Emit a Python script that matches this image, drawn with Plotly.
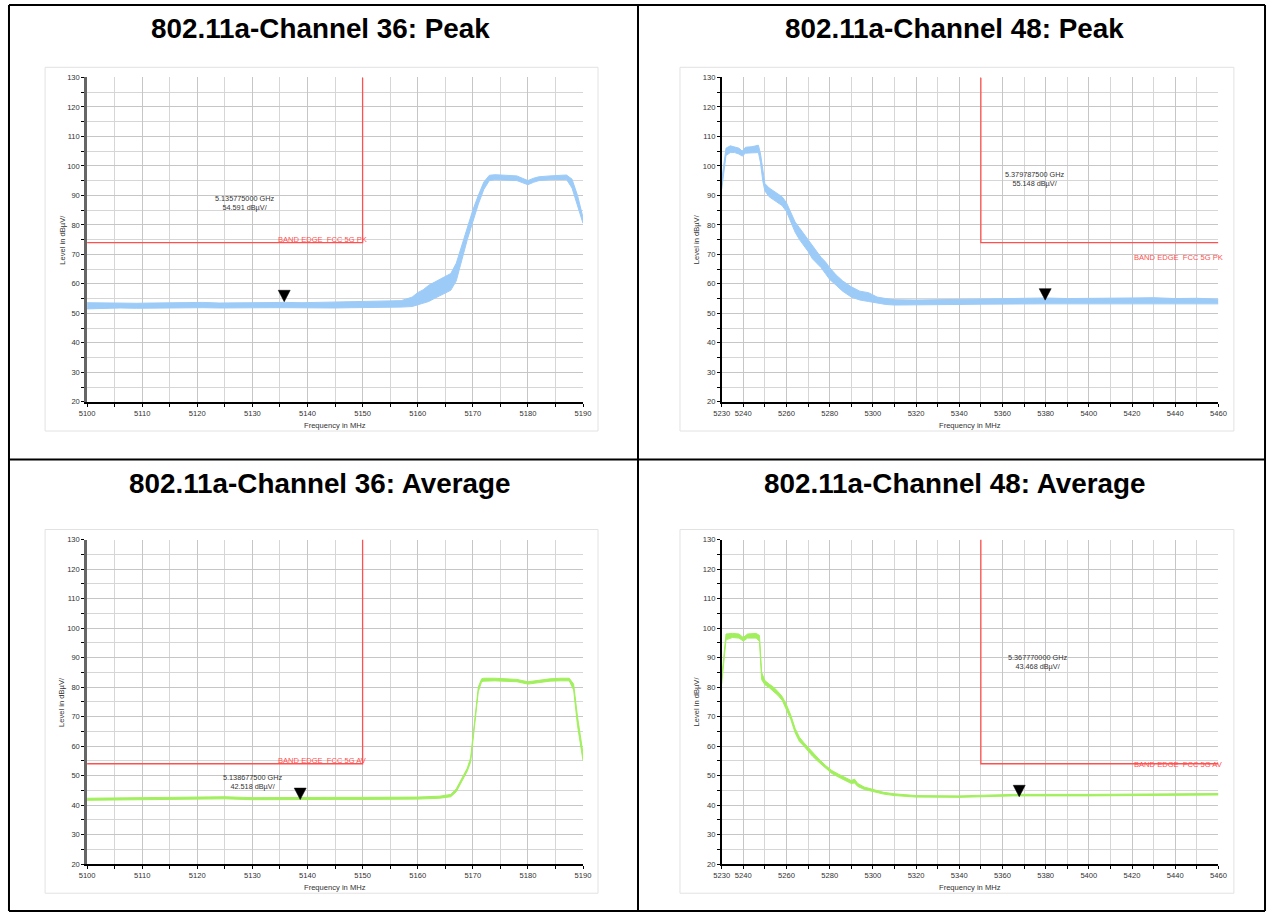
import plotly.graph_objects as go

# The page is photographed as a 1290x933 area (figure + 8px body margin) scaled to 1274x917.
W, H = 1274, 917
OFF = 8
SX, SY = 1274 / 1290, 917 / 933

# ---------------- data ----------------
# Channel 36 - Peak (noise band: lower / upper envelope)
freq_ch36_pk = [5100, 5103, 5106, 5109, 5112, 5115, 5118, 5121, 5124, 5127, 5130, 5133, 5136, 5139,
                5142, 5145, 5148, 5151, 5154, 5157, 5159, 5160, 5161, 5162, 5163, 5164, 5165, 5166,
                5167, 5168, 5169, 5170, 5171, 5172, 5173, 5174, 5176, 5178, 5179, 5180, 5181, 5182,
                5184, 5186, 5187, 5188, 5189, 5190]
lo_ch36_pk = [51.5, 51.7, 51.8, 51.7, 51.8, 51.7, 51.8, 51.9, 51.8, 51.9, 51.8, 51.9, 51.9, 51.8,
              51.9, 51.8, 51.9, 51.9, 52.0, 52.1, 52.3, 52.8, 53.3, 54.0, 55.0, 56.0, 57.0, 57.8,
              61.0, 68.0, 75.0, 81.0, 87.0, 92.0, 95.0, 95.3, 95.2, 95.0, 94.3, 93.6, 94.4, 95.0,
              95.3, 95.5, 95.4, 92.5, 86.5, 80.5]
hi_ch36_pk = [53.6, 53.5, 53.6, 53.4, 53.5, 53.6, 53.5, 53.7, 53.5, 53.6, 53.7, 53.8, 53.7, 53.6,
              53.7, 53.8, 53.8, 53.9, 54.0, 54.3, 55.5, 57.0, 58.0, 59.5, 60.5, 61.5, 62.5, 63.5,
              67.0, 73.0, 79.0, 85.0, 90.0, 94.5, 96.8, 97.0, 96.8, 96.6, 95.8, 95.0, 95.8, 96.3,
              96.6, 96.8, 96.9, 95.5, 90.0, 82.5]

# Channel 48 - Peak
freq_ch48_pk = [5230, 5231, 5232, 5234, 5236, 5238, 5239.5, 5241, 5244, 5247,
                5248, 5249, 5250, 5252, 5254, 5256, 5258, 5260, 5262, 5264, 5266, 5268, 5270, 5272,
                5274, 5276, 5278, 5280, 5283, 5286, 5290, 5294, 5298, 5302, 5306, 5310,
                5320, 5330, 5340, 5350, 5360, 5370, 5380, 5390, 5400, 5410, 5420, 5430, 5440, 5450, 5460]
lo_ch48_pk = [92, 97, 103.5, 104.5, 104.5, 104, 103.3, 104.3, 104.5, 104.5,
              101, 95, 91.5, 89.5, 88.5, 87.5, 86.5, 84.5, 81, 77.5, 75, 73, 71, 68.5, 67, 65.5, 63.5, 61.5,
              59.5, 57.5, 55.5, 54.5, 54, 53.5, 53, 52.8,
              52.8, 52.9, 53, 53.1, 53.2, 53.2, 53.2, 53.2, 53.2, 53.2, 53.2, 53.3, 53.2, 53.2, 53.2]
hi_ch48_pk = [95, 100, 106, 106.8, 106.5, 106, 105, 106.3, 106.5, 107,
              104, 99, 94, 92.5, 91.5, 90.5, 89.5, 87.5, 84.5, 81, 79, 77, 75, 73, 71, 69, 67.5, 65.5,
              63, 61, 59, 57.5, 57, 55.5, 55, 54.6,
              54.5, 54.6, 54.7, 54.8, 55, 55, 55.2, 55, 55, 55.1, 55.2, 55.3, 55, 55.1, 54.8]

# Channel 36 - Average
freq_ch36_av = [5100, 5105, 5110, 5115, 5120, 5125, 5130, 5135, 5140, 5145, 5150, 5155, 5160,
                5164, 5166, 5167, 5168, 5169, 5169.6, 5170.3, 5171, 5171.6, 5172, 5174, 5176, 5178,
                5180, 5182, 5184, 5186, 5187.5, 5188.3, 5189, 5190]
lo_ch36_av = [41.6, 41.7, 41.7, 41.8, 41.9, 42.1, 41.8, 41.9, 41.9, 41.9, 41.9, 41.9, 42.0,
              42.3, 42.8, 44.5, 48, 51.5, 54.5, 67, 78.5, 81.8, 82.0, 82.1, 82.0, 81.8,
              81.0, 81.6, 82.0, 82.1, 82.1, 79, 67, 55]
hi_ch36_av = [42.3, 42.4, 42.4, 42.5, 42.6, 42.8, 42.5, 42.6, 42.6, 42.6, 42.6, 42.6, 42.7,
              43.0, 43.6, 45.5, 49, 52.5, 56, 69, 80, 82.8, 83.0, 83.0, 82.9, 82.6,
              81.8, 82.4, 82.8, 83.0, 83.0, 81, 70, 57.5]

# Channel 48 - Average
freq_ch48_av = [5230, 5231, 5232, 5235, 5238, 5240, 5242, 5246, 5247.5, 5248.5,
                5250, 5252, 5254, 5256, 5258, 5260, 5262, 5264, 5266, 5268,
                5270, 5272, 5275, 5278, 5281, 5284, 5287, 5290, 5291.5, 5293,
                5296, 5300, 5305, 5310, 5320, 5340, 5360, 5365, 5400, 5440, 5460]
lo_ch48_av = [81, 88, 96, 96.8, 96.6, 95.6, 96.6, 96.6, 95.5, 82.5,
              80.8, 79.8, 78.5, 77.2, 75.5, 72.5, 69, 64.5, 61.5, 60,
              58.3, 56.6, 54.5, 52.5, 50.7, 49.5, 48.5, 47.3, 47.5, 46.3,
              45.3, 44.5, 43.7, 43.2, 42.7, 42.6, 42.8, 43.1, 43.1, 43.2, 43.4]
hi_ch48_av = [83, 91, 98, 98.2, 98, 96.8, 98, 98.2, 97.5, 85,
              82.2, 81, 80, 78.5, 76.8, 74, 70.5, 66, 63, 61.2,
              59.5, 57.8, 55.6, 53.5, 51.7, 50.5, 49.5, 48.3, 48.8, 47.3,
              46.1, 45.2, 44.3, 43.8, 43.2, 43.1, 43.3, 43.6, 43.6, 43.7, 43.9]

# limits
limit_pk = 74
limit_av = 54
band_edge_ch36 = 5150
band_edge_ch48 = 5350

# markers
marker_freq = [5135.775, 5379.7875, 5138.6775, 5367.77]
marker_level = [54.591, 55.148, 42.518, 43.468]
marker_ghz_text = ["5.135775000 GHz", "5.379787500 GHz", "5.138677500 GHz", "5.367770000 GHz"]
marker_lvl_text = ["54.591 dBµV/", "55.148 dBµV/", "42.518 dBµV/", "43.468 dBµV/"]

titles = ["802.11a-Channel 36: Peak", "802.11a-Channel 48: Peak",
          "802.11a-Channel 36: Average", "802.11a-Channel 48: Average"]
limit_labels = ["BAND EDGE  FCC 5G PK", "BAND EDGE  FCC 5G PK",
                "BAND EDGE  FCC 5G AV", "BAND EDGE  FCC 5G AV"]

x_ticks_ch36 = list(range(5100, 5191, 10))
x_minor_ch36 = list(range(5105, 5191, 10))
x_ticks_ch48 = [5230, 5240, 5260, 5280, 5300, 5320, 5340, 5360, 5380, 5400, 5420, 5440, 5460]
x_minor_ch48 = list(range(5250, 5460, 20))

# ---------------- styling / layout ----------------
BLUE = "#9dcbf8"
GREEN = "#a2ef5e"
RED = "#ff5050"
FONT = "Liberation Sans, Arial, sans-serif"
K = 1 / SX  # compensation for the photo scaling of sizes

def fx(X):
    """photo pixel x -> figure pixel x"""
    return X / SX - OFF

def fy(Y):
    return Y / SY - OFF

def px(X):
    return fx(X) / W

def py(Y):
    return 1 - fy(Y) / H

# plot areas in photo pixels (left, right, top, bottom)
areas = [(87, 583, 80.7, 402.7), (721.7, 1218.5, 80.7, 402.7),
         (87, 583, 539.5, 861.5), (721.7, 1218.5, 539.5, 861.5)]
frames = [(45, 598, 70.7, 431.7), (680, 1234, 70.7, 431.7),
          (45, 598, 529.5, 890.5), (680, 1234, 529.5, 890.5)]

panels = [
    (freq_ch36_pk, lo_ch36_pk, hi_ch36_pk, BLUE, limit_pk, band_edge_ch36, "left"),
    (freq_ch48_pk, lo_ch48_pk, hi_ch48_pk, BLUE, limit_pk, band_edge_ch48, "right"),
    (freq_ch36_av, lo_ch36_av, hi_ch36_av, GREEN, limit_av, band_edge_ch36, "left"),
    (freq_ch48_av, lo_ch48_av, hi_ch48_av, GREEN, limit_av, band_edge_ch48, "right"),
]

fig = go.Figure()
layout = dict(width=W, height=H, margin=dict(l=0, r=0, t=0, b=0),
              paper_bgcolor="white", plot_bgcolor="white", showlegend=False,
              font=dict(family=FONT, size=8, color="#333"))
annotations = []
shapes = []

def note(text, x, y, size, color="#333", **kw):
    d = dict(text=text, xref="paper", yref="paper", x=px(x), y=py(y), showarrow=False,
             xanchor="center", yanchor="middle",
             font=dict(size=size * K, color=color, family=FONT))
    d.update(kw)
    annotations.append(d)

TICKFONT = dict(size=7.5 * K, color="#333", family=FONT)

for i, (fr, lo, hi, col, lim, edge, side) in enumerate(panels):
    n = "" if i == 0 else str(i + 1)
    xa, ya = "x" + n, "y" + n
    l, r, t, b = areas[i]
    xmin, xmax = fr[0], fr[-1]

    # trace band
    fig.add_trace(go.Scatter(x=fr, y=lo, mode="lines", line=dict(color=col, width=1),
                             xaxis=xa, yaxis=ya, hoverinfo="skip"))
    fig.add_trace(go.Scatter(x=fr, y=hi, mode="lines", line=dict(color=col, width=1),
                             fill="tonexty", fillcolor=col, xaxis=xa, yaxis=ya))

    # limit line
    if side == "left":
        lx, ly = [xmin, edge, edge], [lim, lim, 130]
    else:
        lx, ly = [edge, edge, xmax], [130, lim, lim]
    fig.add_trace(go.Scatter(x=lx, y=ly, mode="lines", line=dict(color=RED, width=1.3),
                             xaxis=xa, yaxis=ya))

    is_left = side == "left"
    layout["xaxis" + n] = dict(
        domain=[px(l), px(r)], anchor=ya, range=[xmin, xmax],
        tickmode="array", tickvals=x_ticks_ch36 if is_left else x_ticks_ch48,
        ticks="outside", ticklen=3, tickcolor="black", tickwidth=1, tickfont=TICKFONT,
        showline=True, linecolor="black", linewidth=1.5,
        showgrid=True, gridcolor="#c6c6c6", gridwidth=1, zeroline=False,
        minor=dict(tickmode="array", tickvals=x_minor_ch36 if is_left else x_minor_ch48,
                   ticks="outside", ticklen=3, tickcolor="black",
                   showgrid=True, gridcolor="#d6d6d6", gridwidth=1.4),
        fixedrange=True)
    layout["yaxis" + n] = dict(
        domain=[py(b), py(t)], anchor=xa, range=[20, 130],
        tickmode="linear", tick0=20, dtick=10,
        ticks="outside", ticklen=3, tickcolor="black", tickfont=TICKFONT,
        showline=True, linecolor="#666666" if is_left else "black",
        linewidth=2.5 if is_left else 1.5,
        showgrid=True, gridcolor="#c6c6c6", gridwidth=1, zeroline=False,
        minor=dict(dtick=5, tick0=20, ticks="outside", ticklen=3, tickcolor="black",
                   showgrid=True, gridcolor="#d6d6d6", gridwidth=1.4),
        fixedrange=True)

    # chart frame
    fl, fr_, ft, fb = frames[i]
    shapes.append(dict(type="rect", xref="paper", yref="paper", x0=px(fl), x1=px(fr_),
                       y0=py(fb), y1=py(ft), line=dict(color="#e2e2e2", width=1), layer="below"))

    # axis titles
    note("Frequency in MHz", (l + r) / 2, b + 23.5, 7.5)
    note("Level in dBµV/", l - 25, (t + b) / 2, 7.5, textangle=-90)

    # limit label
    lab = dict(text=limit_labels[i], xref=xa, yref=ya, y=lim, xanchor="right", showarrow=False,
               font=dict(size=7.5 * K, color=RED, family=FONT))
    if is_left:
        lab.update(x=edge, yanchor="bottom", xshift=6, yshift=-3)
    elif i == 1:
        lab.update(x=xmax, yanchor="top", xshift=7, yshift=-8)
    else:
        lab.update(x=xmax, yanchor="middle", xshift=7, yshift=-1)
    annotations.append(lab)

    # marker triangle (pixel-sized, anchored at marker value)
    shapes.append(dict(type="path", xref=xa, yref=ya, xsizemode="pixel", ysizemode="pixel",
                       xanchor=marker_freq[i], yanchor=marker_level[i],
                       path="M-6,9.5 L6,9.5 L0,-2 Z", fillcolor="black",
                       line=dict(color="black", width=0.5)))

# marker texts (photo pixel positions of the text blocks)
marker_text_pos = [(244, 205.5), (1035, 181.7), (252.5, 780.5), (1038, 661.3)]
for i, (tx, ty) in enumerate(marker_text_pos):
    note(marker_ghz_text[i] + "<br>" + marker_lvl_text[i], tx, ty, 7.2, align="center")

# titles
title_pos = [(320, 32.5), (955, 32.5), (320, 484), (955, 484)]
for i, (tx, ty) in enumerate(title_pos):
    note("<b>" + titles[i] + "</b>", tx, ty, 27.5, color="black")

# table borders (outer frame clamped to the figure area)
border = dict(color="black", width=2)
fl_ = 1 / W
fr_b = (W - 1) / W
ft_ = 1 - 1 / H
fb_ = 1 / H
mid_x = px(638)
mid_y = py(460)
for (x0, y0, x1, y1) in [(fl_, ft_, fr_b, ft_), (fl_, fb_, fr_b, fb_), (fl_, ft_, fl_, fb_),
                         (fr_b, ft_, fr_b, fb_), (mid_x, ft_, mid_x, fb_), (fl_, mid_y, fr_b, mid_y)]:
    shapes.append(dict(type="line", xref="paper", yref="paper", x0=x0, x1=x1,
                       y0=y0, y1=y1, line=border))

layout["annotations"] = annotations
layout["shapes"] = shapes
fig.update_layout(**layout)
fig.write_html("out.html")
